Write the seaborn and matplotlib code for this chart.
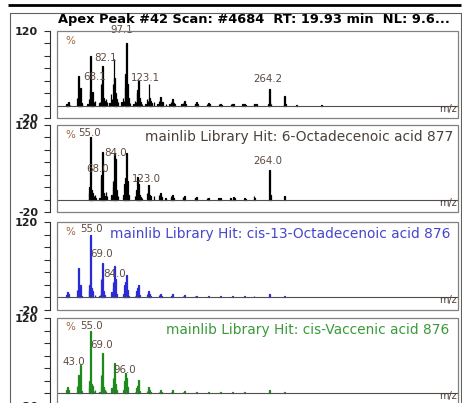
import matplotlib
matplotlib.use("Agg")
import matplotlib.pyplot as plt
import seaborn as sns
from matplotlib.patches import Rectangle

sns.set_style("white")
plt.rcParams["font.family"] = ["DejaVu Sans"]

# ---- header ----
scan_title = "Apex Peak #42 Scan: #4684  RT: 19.93 min  NL: 9.6..."

# ---- measured spectrum (apex scan) ----
sample_mz = [27, 28, 29, 31, 39, 40, 41, 42, 43, 44, 45,
             51, 53, 54, 55, 56, 57, 58, 59, 60,
             65, 66, 67, 68.1, 69, 70, 71, 73, 74,
             77, 79, 80, 81, 82.1, 83, 84, 85, 87,
             91, 93, 94, 95, 96, 97.1, 98, 99, 101,
             105, 107, 108, 109, 110, 111, 112, 113, 115,
             119, 121, 122, 123.1, 124, 125, 126, 129,
             133, 135, 136, 137, 138, 139, 143,
             147, 149, 150, 151, 152, 153,
             161, 163, 164, 165, 166,
             177, 178, 179, 180,
             191, 193, 194,
             205, 207, 208,
             219, 221, 222,
             233, 235, 236,
             246, 247, 249,
             263, 264.2, 265, 266,
             281, 282, 283, 296, 325]
sample_int = [3, 2, 5, 1, 12, 4, 47, 10, 28, 4, 3,
              3, 10, 25, 79, 18, 22, 4, 6, 8,
              4, 6, 35, 36, 64, 12, 8, 10, 5,
              4, 18, 10, 35, 75, 45, 20, 10, 5,
              5, 12, 8, 30, 50, 100, 35, 12, 4,
              3, 8, 6, 20, 25, 40, 12, 5, 3,
              3, 10, 8, 34, 12, 8, 4, 5,
              3, 8, 5, 14, 6, 5, 3,
              3, 6, 4, 10, 4, 3,
              2, 4, 3, 7, 2,
              3, 2, 5, 2,
              3, 4, 2,
              2, 3, 1,
              2, 3, 2,
              2, 3, 1,
              3, 3, 2,
              3, 26, 5, 2,
              3, 15, 3, 1, 1]
sample_labels = [68.1, 82.1, 97.1, 123.1, 264.2]

# ---- library hit 1: 6-Octadecenoic acid ----
hit1_name = "mainlib Library Hit: 6-Octadecenoic acid 877"
hit1_mz = [53, 54, 55.0, 56, 57, 59, 60, 61,
           65, 67, 68.0, 69, 70, 71, 73, 74,
           79, 80, 81, 82, 83, 84.0, 85, 87,
           93, 94, 95, 96, 97, 98, 99,
           107, 108, 109, 110, 111, 112, 113, 115,
           121, 122, 123.0, 124, 125, 129,
           135, 136, 137, 138, 143,
           149, 150, 151, 152,
           163, 164, 165,
           177, 178, 179,
           191, 193,
           205, 207,
           219, 222, 223,
           235, 236, 246, 247,
           264.0, 265, 282]
hit1_int = [10, 20, 100, 15, 10, 5, 8, 3,
            3, 35, 40, 77, 10, 5, 12, 6,
            8, 6, 30, 20, 75, 66, 15, 6,
            8, 6, 25, 35, 75, 30, 8,
            6, 5, 15, 37, 25, 8, 4, 3,
            10, 6, 24, 8, 5, 5,
            8, 4, 10, 4, 3,
            6, 3, 8, 3,
            4, 2, 5,
            3, 2, 4,
            2, 3,
            2, 2,
            2, 4, 2,
            2, 1, 5, 2,
            48, 8, 5]
hit1_labels = [55.0, 68.0, 84.0, 123.0, 264.0]

# ---- library hit 2: cis-13-Octadecenoic acid ----
hit2_name = "mainlib Library Hit: cis-13-Octadecenoic acid 876"
hit2_mz = [27, 28, 29, 39, 40, 41, 42, 43, 44,
           53, 54, 55.0, 56, 57, 60,
           65, 66, 67, 68, 69.0, 70, 71,
           79, 80, 81, 82, 83, 84.0, 85,
           93, 94, 95, 96, 97, 98, 99,
           107, 108, 109, 110, 111, 112,
           121, 122, 123, 124, 125,
           135, 136, 137, 138,
           149, 150, 151,
           163, 165,
           177, 179,
           193, 207, 221, 235, 246, 264, 282]
hit2_int = [4, 8, 6, 12, 3, 47, 10, 20, 3,
            12, 20, 100, 15, 10, 4,
            3, 4, 30, 12, 55, 10, 4,
            8, 5, 25, 15, 50, 30, 5,
            5, 4, 20, 25, 35, 12, 3,
            3, 4, 10, 15, 19, 4,
            5, 4, 10, 5, 3,
            4, 2, 6, 2,
            3, 2, 5,
            2, 4,
            2, 3,
            2, 2, 1.5, 1.5, 2, 6, 2]
hit2_labels = [55.0, 69.0, 84.0]

# ---- library hit 3: cis-Vaccenic acid ----
hit3_name = "mainlib Library Hit: cis-Vaccenic acid 876"
hit3_mz = [27, 28, 29, 39, 40, 41, 42, 43.0, 44,
           53, 54, 55.0, 56, 57, 59, 60,
           65, 67, 68, 69.0, 70, 71, 73,
           79, 81, 82, 83, 84, 85,
           93, 95, 96.0, 97, 98,
           107, 109, 110, 111, 112,
           121, 123, 124, 125,
           135, 137, 138, 149, 151, 163, 165,
           179, 193, 207, 221, 235, 264, 282]
hit3_int = [5, 11, 6, 12, 3, 30, 8, 45, 4,
            10, 20, 100, 15, 12, 4, 6,
            3, 30, 10, 64, 10, 5, 4,
            8, 25, 14, 48, 15, 5,
            5, 20, 32, 25, 10,
            3, 8, 12, 21, 4,
            4, 10, 5, 3,
            3, 6, 2, 2, 5, 2, 4,
            3, 2, 2, 1.5, 1.5, 5, 2]
hit3_labels = [43.0, 55.0, 69.0, 96.0]

# label placement (pixel offsets from the peak top to the label centre)
sample_offsets = [(-7, 6), (-8, 1), (-5, 13.5), (-3, 6.5), (-2, 10.5)]
hit1_offsets = [(-1, 4), (-4, 6), (0, 6), (-2, 6), (-1.5, 8.5)]
hit2_offsets = [(1, 5.5), (-1, 8.5), (-0.5, 5)]
hit3_offsets = [(-7, 3.5), (1, 5), (-1, 8.5), (-0.7, 3)]

MZ_MIN, MZ_MAX = 15.6, 484.8
Y_MIN, Y_MAX = -20, 120

W, H = 462, 403
fig = plt.figure(figsize=(W / 100, H / 100), dpi=100)

# frame lines around the whole panel stack (pixel coordinates)
frame = fig.add_axes([0, 0, 1, 1])
frame.set_xlim(0, W)
frame.set_ylim(H, 0)
frame.axis("off")
frame.plot([8, 461], [4.5, 4.5], color="black", lw=2.0, solid_capstyle="butt")
frame.plot([10, 10, 461, 461], [H, 12.5, 12.5, H], color="#606060", lw=0.8)

fig.text(58 / W, 1 - 20 / H, scan_title, ha="left", va="center",
         fontsize=9.4, fontweight="bold", color="black")

panels = [
    dict(mz=sample_mz, inten=sample_int, labels=sample_labels, offs=sample_offsets,
         color="black", name=None, name_color=None, name_x=None, top=31, bottom=118),
    dict(mz=hit1_mz, inten=hit1_int, labels=hit1_labels, offs=hit1_offsets,
         color="black", name=hit1_name, name_color="#4a403a", name_x=145, top=125, bottom=212),
    dict(mz=hit2_mz, inten=hit2_int, labels=hit2_labels, offs=hit2_offsets,
         color="#2a2ad6", name=hit2_name, name_color="#4646cc", name_x=110, top=222, bottom=310),
    dict(mz=hit3_mz, inten=hit3_int, labels=hit3_labels, offs=hit3_offsets,
         color="#1e8a1e", name=hit3_name, name_color="#3a9a3a", name_x=166, top=318, bottom=406),
]

label_color = "#5c4b40"
pct_color = "#a0643c"

for p in panels:
    ax = fig.add_axes([57 / W, 1 - p["bottom"] / H, 401 / W, (p["bottom"] - p["top"]) / H])
    ax.patch.set_alpha(0)
    sns.barplot(x=p["mz"], y=p["inten"], native_scale=True, width=0.9,
                color=p["color"], saturation=1, edgecolor=p["color"],
                linewidth=0.9, errorbar=None, ax=ax)
    ax.set_xlim(MZ_MIN, MZ_MAX)
    ax.set_ylim(Y_MIN, Y_MAX)
    ax.axhline(0, color="#505050", lw=0.8, zorder=1)

    # plot box and detached intensity axis
    for s in ("top", "right", "bottom"):
        ax.spines[s].set_visible(False)
    ax.spines["left"].set_position(("outward", 5))
    ax.spines["left"].set_color("#303030")
    ax.spines["left"].set_linewidth(0.8)
    ax.add_patch(Rectangle((0, 0), 1, 1, transform=ax.transAxes, fill=False,
                           ec="#808080", lw=0.9, clip_on=False, zorder=5))
    ticks = list(range(Y_MIN, Y_MAX + 1, 20))
    ax.set_yticks(ticks)
    ax.set_yticklabels([str(t) if t in (Y_MIN, Y_MAX) else "" for t in ticks])
    ax.tick_params(axis="y", length=4.3, width=0.8, pad=4.3, color="#303030",
                   labelsize=8, labelcolor="#202020", left=True)
    for t in ax.get_yticklabels():
        t.set_fontweight("bold")
    ax.set_xticks([])
    ax.set_xlabel("")
    ax.set_ylabel("")

    # relative-abundance marker and axis unit
    ax.annotate("%", xy=(0, 1), xycoords="axes fraction", xytext=(13, -9.5),
                textcoords="offset pixels", ha="center", va="center",
                fontsize=7.5, color=pct_color)
    ax.annotate("m/z", xy=(1, 0), xycoords=ax.get_yaxis_transform(), xytext=(-1, -3),
                textcoords="offset pixels", ha="right", va="center",
                fontsize=7, color="#4a3c34")

    # peak labels
    for v, (dx, dy) in zip(p["labels"], p["offs"]):
        h = p["inten"][p["mz"].index(v)]
        ax.annotate(f"{v:.1f}", xy=(v, h), xytext=(dx, dy), textcoords="offset pixels",
                    ha="center", va="center", fontsize=7.4, color=label_color,
                    annotation_clip=False)

    if p["name"]:
        txt = ax.annotate(p["name"], xy=((p["name_x"] - 57) / 401, 1),
                          xycoords="axes fraction", xytext=(0, -12),
                          textcoords="offset pixels", ha="left", va="center",
                          fontsize=9.9, color=p["name_color"])
        txt.set_clip_on(True)

fig.savefig("out.png", dpi=100)
